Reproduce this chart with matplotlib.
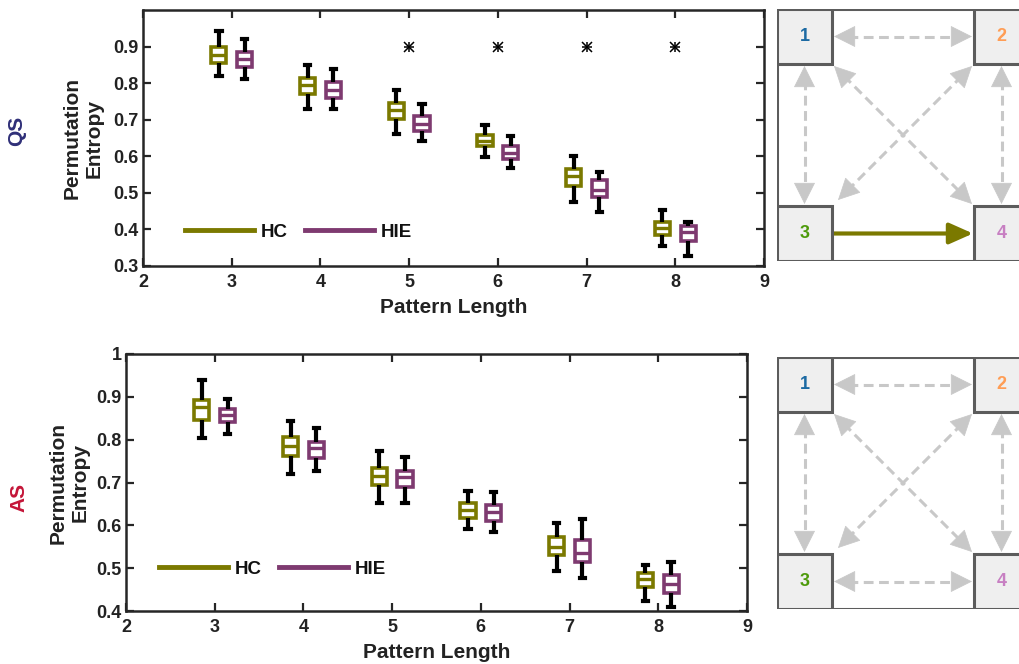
import matplotlib
matplotlib.use("Agg")
import matplotlib.pyplot as plt
from matplotlib.lines import Line2D
from matplotlib.patches import Rectangle
from matplotlib.ticker import FuncFormatter

plt.rcParams['font.family'] = ['Liberation Sans', 'DejaVu Sans']
plt.rcParams['font.weight'] = 'bold'

# ---------------- data ----------------
pattern_lengths = [3, 4, 5, 6, 7, 8]

# QS (quiet sleep): [whisker low, q1, median, q3, whisker high]
qs_hc_low  = [0.820, 0.730, 0.661, 0.598, 0.476, 0.355]
qs_hc_q1   = [0.855, 0.770, 0.702, 0.627, 0.518, 0.384]
qs_hc_med  = [0.878, 0.795, 0.727, 0.643, 0.545, 0.405]
qs_hc_q3   = [0.900, 0.815, 0.747, 0.659, 0.566, 0.421]
qs_hc_high = [0.943, 0.849, 0.782, 0.686, 0.600, 0.452]

qs_hie_low  = [0.812, 0.730, 0.641, 0.567, 0.447, 0.327]
qs_hie_q1   = [0.845, 0.759, 0.668, 0.593, 0.489, 0.367]
qs_hie_med  = [0.865, 0.782, 0.689, 0.609, 0.509, 0.393]
qs_hie_q3   = [0.886, 0.803, 0.709, 0.629, 0.536, 0.409]
qs_hie_high = [0.921, 0.839, 0.742, 0.655, 0.556, 0.421]

qs_significant = [5, 6, 7, 8]
qs_sig_level = 0.9

# AS (active sleep)
as_hc_low  = [0.805, 0.720, 0.653, 0.592, 0.493, 0.423]
as_hc_q1   = [0.846, 0.762, 0.694, 0.618, 0.531, 0.455]
as_hc_med  = [0.876, 0.786, 0.716, 0.636, 0.550, 0.474]
as_hc_q3   = [0.893, 0.806, 0.735, 0.651, 0.572, 0.488]
as_hc_high = [0.939, 0.844, 0.773, 0.680, 0.605, 0.507]

as_hie_low  = [0.813, 0.728, 0.653, 0.584, 0.478, 0.409]
as_hie_q1   = [0.841, 0.757, 0.690, 0.611, 0.514, 0.441]
as_hie_med  = [0.857, 0.780, 0.712, 0.630, 0.536, 0.463]
as_hie_q3   = [0.872, 0.795, 0.728, 0.647, 0.566, 0.484]
as_hie_high = [0.895, 0.827, 0.760, 0.677, 0.614, 0.514]

group_labels = ['HC', 'HIE']
state_labels = ['QS', 'AS']
node_labels = ['1', '2', '3', '4']

# ---------------- style ----------------
HC_COLOR = '#7b7900'
HIE_COLOR = '#7e3a70'
QS_COLOR = '#2f2f78'
AS_COLOR = '#c41538'
NODE_COLORS = ['#1c6aa3', '#ff9d55', '#4d9a0a', '#c77fc2']
SPINE = '#262626'
OFFSET = 0.145
BOX_W = 0.17

W, H = 1019, 664
fig = plt.figure(figsize=(W / 100, H / 100), dpi=100)


def px_axes(left, top, right, bottom):
    return fig.add_axes([left / W, 1 - bottom / H, (right - left) / W, (bottom - top) / H])


def make_stats(lo, q1, med, q3, hi):
    return [dict(whislo=a, q1=b, med=c, q3=d, whishi=e, fliers=[])
            for a, b, c, d, e in zip(lo, q1, med, q3, hi)]


def draw_boxes(ax, stats, positions, color):
    ax.bxp(stats, positions=positions, widths=BOX_W, showfliers=False,
           patch_artist=True, manage_ticks=False,
           boxprops=dict(facecolor='white', edgecolor=color, linewidth=2.6),
           medianprops=dict(color=color, linewidth=2.4),
           whiskerprops=dict(color='black', linewidth=3.0, solid_capstyle='butt'),
           capprops=dict(color='black', linewidth=3.0),
           capwidths=0.06, zorder=3)


def style_axes(ax, ylim, yticks, state, state_color, state_x, state_y, label_x):
    ax.set_xlim(2, 9)
    ax.set_ylim(*ylim)
    ax.set_xticks(range(2, 10))
    ax.set_yticks(yticks)
    ax.yaxis.set_major_formatter(FuncFormatter(lambda v, p: ('%g' % round(v, 2))))
    ax.tick_params(direction='in', length=6, width=1.6, top=True, right=True,
                   labelsize=13, color=SPINE)
    ax.tick_params(axis='x', pad=6)
    ax.tick_params(axis='y', pad=3)
    for lab in ax.get_xticklabels() + ax.get_yticklabels():
        lab.set_fontweight('bold')
        lab.set_color('#222222')
    for s in ax.spines.values():
        s.set_linewidth(1.8)
        s.set_color(SPINE)
    ax.set_xlabel('Pattern Length', fontsize=15, fontweight='bold', color='#222222', labelpad=5)
    ax.set_ylabel('Permutation\nEntropy', fontsize=15, fontweight='bold', color='#222222',
                  linespacing=1.2)
    ax.yaxis.set_label_coords(label_x, 0.5)
    fig.text(state_x / W, 1 - state_y / H, state, rotation=90, color=state_color,
             fontsize=15, fontweight='bold', ha='center', va='center')


def add_legend(ax, anchor):
    handles = [Line2D([], [], color=HC_COLOR, lw=3.5),
               Line2D([], [], color=HIE_COLOR, lw=3.5)]
    leg = ax.legend(handles, group_labels, ncol=2, frameon=False, loc='center left',
                    bbox_to_anchor=anchor, handlelength=3.7, handletextpad=0.35,
                    columnspacing=0.9, prop=dict(size=13.5, weight='bold'))
    for t in leg.get_texts():
        t.set_color('#111111')


# ---------------- top (QS) ----------------
ax1 = px_axes(143, 10, 764, 266)
hc_pos = [p - OFFSET for p in pattern_lengths]
hie_pos = [p + OFFSET for p in pattern_lengths]
draw_boxes(ax1, make_stats(qs_hc_low, qs_hc_q1, qs_hc_med, qs_hc_q3, qs_hc_high), hc_pos, HC_COLOR)
draw_boxes(ax1, make_stats(qs_hie_low, qs_hie_q1, qs_hie_med, qs_hie_q3, qs_hie_high), hie_pos, HIE_COLOR)
for m in ['+', 'x']:
    ax1.plot(qs_significant, [qs_sig_level] * len(qs_significant), linestyle='none',
             marker=m, color='black', markersize=7.5, markeredgewidth=1.1)
style_axes(ax1, (0.3, 1.0), [0.3, 0.4, 0.5, 0.6, 0.7, 0.8, 0.9], state_labels[0], QS_COLOR,
           17, 131, -0.063)
add_legend(ax1, (0.040, 0.133))

# ---------------- bottom (AS) ----------------
ax2 = px_axes(126, 354, 747, 611)
draw_boxes(ax2, make_stats(as_hc_low, as_hc_q1, as_hc_med, as_hc_q3, as_hc_high), hc_pos, HC_COLOR)
draw_boxes(ax2, make_stats(as_hie_low, as_hie_q1, as_hie_med, as_hie_q3, as_hie_high), hie_pos, HIE_COLOR)
style_axes(ax2, (0.4, 1.0), [0.4, 0.5, 0.6, 0.7, 0.8, 0.9, 1.0], state_labels[1], AS_COLOR,
           19, 497, -0.058)
add_legend(ax2, (0.026, 0.163))


# ---------------- network diagrams ----------------
def diagram(top, directed_34):
    S = 252.0
    B = 55.0
    ax = fig.add_axes([777 / W, 1 - (top + S) / H, S / W, S / H])
    ax.set_xlim(0, S)
    ax.set_ylim(0, S)
    ax.axis('off')
    edge = '#5c5c5c'
    ax.add_patch(Rectangle((0, 0), S, S, fill=False, edgecolor=edge, lw=2.2, zorder=1))
    corners = [(0, S - B), (S - B, S - B), (0, 0), (S - B, 0)]
    for (x, y), lab, c in zip(corners, node_labels, NODE_COLORS):
        ax.add_patch(Rectangle((x, y), B, B, facecolor='#efefef', edgecolor=edge, lw=2.2, zorder=4))
        ax.text(x + B / 2, y + B / 2, lab, color=c, fontsize=13, fontweight='bold',
                ha='center', va='center', zorder=5)
    gray = '#c8c8c8'
    c = B / 2
    g = 2.0
    links = [((B + g, S - c), (S - B - g, S - c)),            # 1-2
             ((c, S - B - g), (c, B + g)),                    # 1-3
             ((S - c, S - B - g), (S - c, B + g)),            # 2-4
             ((B + 2, S - B - 2), (S - B - 2, B + 2)),        # 1-4
             ((S - B - 2, S - B - 2), (B + 6, B + 6))]        # 2-3
    if not directed_34:
        links.append(((B + g, c), (S - B - g, c)))            # 3-4
    for (x0, y0), (x1, y1) in links:
        dx, dy = x1 - x0, y1 - y0
        L = (dx ** 2 + dy ** 2) ** 0.5
        ux, uy = dx / L, dy / L
        h = 14
        ax.plot([x0 + ux * h, x1 - ux * h], [y0 + uy * h, y1 - uy * h], color=gray, lw=2.2,
                linestyle=(0, (3.2, 1.8)), zorder=2)
        for (ex, ey), sgn in [((x1, y1), 1), ((x0, y0), -1)]:
            ax.annotate('', xy=(ex, ey), xytext=(ex - sgn * ux * h * 1.1, ey - sgn * uy * h * 1.1),
                        arrowprops=dict(arrowstyle='-|>,head_length=0.9,head_width=0.45',
                                        color=gray, lw=0.5, shrinkA=0, shrinkB=0,
                                        mutation_scale=16), zorder=2)
    if directed_34:
        ax.annotate('', xy=(S - B - 1, c), xytext=(B, c),
                    arrowprops=dict(arrowstyle='-|>,head_length=0.9,head_width=0.4',
                                    color=HC_COLOR, lw=3, shrinkA=0, shrinkB=0,
                                    mutation_scale=16), zorder=3)


diagram(9, True)
diagram(357, False)

fig.savefig('out.png', dpi=100)
